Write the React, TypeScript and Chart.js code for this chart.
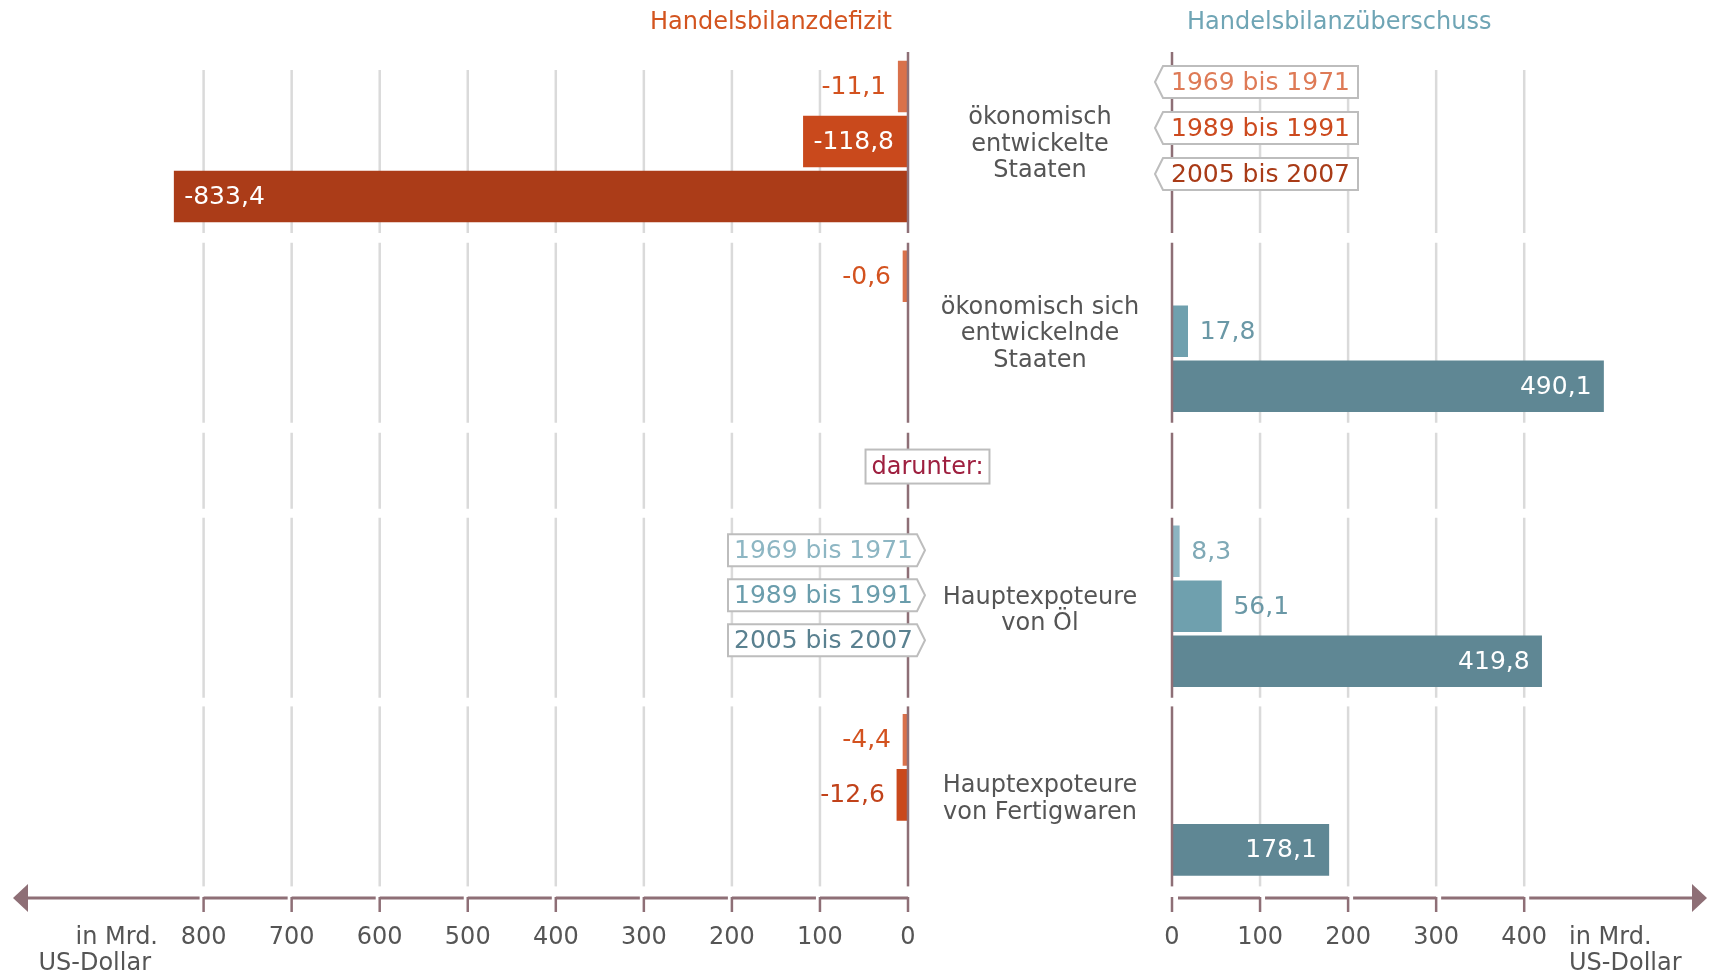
import { useEffect, useRef } from "react";
import { Chart, registerables } from "chart.js";

Chart.register(...registerables);

// ---------- data ----------
const groupLabels: string[][] = [
  ["ökonomisch", "entwickelte", "Staaten"],
  ["ökonomisch sich", "entwickelnde", "Staaten"],
  ["Hauptexpoteure", "von Öl"],
  ["Hauptexpoteure", "von Fertigwaren"],
];
const periods = ["1969 bis 1971", "1989 bis 1991", "2005 bis 2007"];

const deficit1969: (number | null)[] = [-11.1, -0.6, null, -4.4];
const deficit1989: (number | null)[] = [-118.8, null, null, -12.6];
const deficit2005: (number | null)[] = [-833.4, null, null, null];

const surplus1969: (number | null)[] = [null, null, 8.3, null];
const surplus1989: (number | null)[] = [null, 17.8, 56.1, null];
const surplus2005: (number | null)[] = [null, 490.1, 419.8, 178.1];

const leftTicks = [800, 700, 600, 500, 400, 300, 200, 100, 0];
const rightTicks = [0, 100, 200, 300, 400];

const titleDeficit = "Handelsbilanzdefizit";
const titleSurplus = "Handelsbilanzüberschuss";
const dividerLabel = "darunter:";
const unitLines = ["in Mrd.", "US-Dollar"];

// ---------- styles / layout ----------
const W = 1709;
const H = 979;
const FONT = '"DejaVu Sans", Verdana, sans-serif';
const PX_PER_UNIT = 0.8805;
const LEFT_ZERO = 908;
const RIGHT_ZERO = 1172;
const LEFT_MAX = 900;
const RIGHT_MAX = 600;
const SLOT_PX = 55;
const FIRST_SLOT_PX = 86.5;
const GROUP_OFFSETS = [0, 3.45, 8.45, 11.88];
const DIVIDER_ROW = 6.91;
const AXIS_Y = 898;

const deficitColors = ["#d9714b", "#c9491c", "#ab3c18"];
const deficitLabelColors = ["#d3521f", "#c1421a", "#a83a17"];
const deficitTagColors = ["#de7a56", "#cc4a1e", "#a93b17"];
const surplusColors = ["#8cb4c1", "#6fa0ae", "#5f8794"];
const surplusLabelColors = ["#7fa9b6", "#6a98a6", "#5f8794"];
const surplusTagColors = ["#8db6c3", "#6a9dac", "#5a8190"];
const GRID = "#dadada";
const AXIS = "#8e6f76";
const TEXT = "#555555";

const fmt = (v: number) => v.toFixed(1).replace(".", ",");

function toPoints(values: (number | null)[], p: number) {
  const out: { x: number; y: number }[] = [];
  values.forEach((v, g) => {
    if (v !== null) out.push({ x: v, y: GROUP_OFFSETS[g] + p });
  });
  return out;
}

function bandsFor(y: any) {
  const bands = GROUP_OFFSETS.map((o) => ({
    top: y.getPixelForValue(o - 0.5) - 6,
    bottom: y.getPixelForValue(o + 2.5) + 9,
  }));
  const divider = { top: bands[1].bottom + 10, bottom: bands[2].top - 9 };
  return [bands[0], bands[1], divider, bands[2], bands[3]];
}

function drawTag(
  ctx: CanvasRenderingContext2D,
  x1: number,
  x2: number,
  cy: number,
  pointer: "left" | "right",
  text: string,
  color: string
) {
  const h = 32;
  const tip = 8;
  const top = cy - h / 2;
  const bottom = cy + h / 2;
  ctx.beginPath();
  if (pointer === "left") {
    ctx.moveTo(x1, cy);
    ctx.lineTo(x1 + tip, top);
    ctx.lineTo(x2, top);
    ctx.lineTo(x2, bottom);
    ctx.lineTo(x1 + tip, bottom);
  } else {
    ctx.moveTo(x1, top);
    ctx.lineTo(x2 - tip, top);
    ctx.lineTo(x2, cy);
    ctx.lineTo(x2 - tip, bottom);
    ctx.lineTo(x1, bottom);
  }
  ctx.closePath();
  ctx.fillStyle = "#ffffff";
  ctx.fill();
  ctx.strokeStyle = "#bdbdbd";
  ctx.lineWidth = 2;
  ctx.stroke();
  ctx.fillStyle = color;
  ctx.textAlign = "left";
  ctx.textBaseline = "middle";
  ctx.font = `25px ${FONT}`;
  ctx.fillText(text, pointer === "left" ? x1 + 16 : x1 + 6, cy + 1);
}

function makePlugin(side: "left" | "right") {
  return {
    id: "decor-" + side,
    beforeDatasetsDraw(chart: any) {
      const ctx: CanvasRenderingContext2D = chart.ctx;
      const x = chart.scales.x;
      const y = chart.scales.y;
      const bands = bandsFor(y);
      const ticks = side === "left" ? leftTicks : rightTicks;
      ctx.save();
      ctx.strokeStyle = GRID;
      ctx.lineWidth = 2.5;
      ticks.forEach((t) => {
        if (t === 0) return;
        const px = x.getPixelForValue(side === "left" ? -t : t);
        bands.forEach((b, i) => {
          ctx.beginPath();
          ctx.moveTo(px, i === 0 ? b.top + 17 : b.top);
          ctx.lineTo(px, b.bottom);
          ctx.stroke();
        });
      });
      ctx.restore();
    },
    afterDatasetsDraw(chart: any) {
      const ctx: CanvasRenderingContext2D = chart.ctx;
      const x = chart.scales.x;
      const y = chart.scales.y;
      const bands = bandsFor(y);
      const ticks = side === "left" ? leftTicks : rightTicks;
      const zero = x.getPixelForValue(0);
      ctx.save();

      // zero lines per band
      ctx.strokeStyle = AXIS;
      ctx.lineWidth = 2.5;
      bands.forEach((b, i) => {
        ctx.beginPath();
        ctx.moveTo(zero, i === 0 ? b.top - 1 : b.top);
        ctx.lineTo(zero, b.bottom);
        ctx.stroke();
      });

      // bottom axis
      const tickPx = ticks.map((t) => x.getPixelForValue(side === "left" ? -t : t));
      ctx.lineWidth = 3;
      ctx.strokeStyle = AXIS;
      ctx.fillStyle = AXIS;
      if (side === "left") {
        const pts = [27, ...tickPx.slice(0, -1), zero];
        for (let i = 0; i < pts.length - 1; i++) {
          const a = pts[i];
          const bEnd = i < pts.length - 2 ? pts[i + 1] - 4 : pts[i + 1];
          ctx.beginPath();
          ctx.moveTo(a, AXIS_Y);
          ctx.lineTo(bEnd, AXIS_Y);
          ctx.stroke();
        }
        ctx.beginPath();
        ctx.moveTo(13, AXIS_Y);
        ctx.lineTo(28, AXIS_Y - 14);
        ctx.lineTo(28, AXIS_Y + 14);
        ctx.closePath();
        ctx.fill();
      } else {
        const pts = [...tickPx, W - 16];
        for (let i = 0; i < pts.length - 1; i++) {
          ctx.beginPath();
          ctx.moveTo(pts[i] + (i === 0 ? 6 : 5), AXIS_Y);
          ctx.lineTo(pts[i + 1], AXIS_Y);
          ctx.stroke();
        }
        ctx.beginPath();
        ctx.moveTo(W - 2, AXIS_Y);
        ctx.lineTo(W - 17, AXIS_Y - 14);
        ctx.lineTo(W - 17, AXIS_Y + 14);
        ctx.closePath();
        ctx.fill();
      }
      ctx.lineWidth = 2.5;
      tickPx.forEach((px) => {
        ctx.beginPath();
        ctx.moveTo(px, AXIS_Y - 1);
        ctx.lineTo(px, AXIS_Y + 14);
        ctx.stroke();
      });

      // tick labels
      ctx.font = `24px ${FONT}`;
      ctx.fillStyle = TEXT;
      ctx.textBaseline = "middle";
      ctx.textAlign = "center";
      ticks.forEach((t, i) => ctx.fillText(String(t), tickPx[i], 938));
      if (side === "left") {
        ctx.textAlign = "right";
        ctx.fillText(unitLines[0], 158, 938);
        ctx.fillText(unitLines[1], 151, 964);
      } else {
        ctx.textAlign = "left";
        ctx.fillText(unitLines[0], 1569, 938);
        ctx.fillText(unitLines[1], 1569, 964);
      }

      // value labels
      ctx.font = `25px ${FONT}`;
      chart.data.datasets.forEach((ds: any, di: number) => {
        const meta = chart.getDatasetMeta(di);
        meta.data.forEach((el: any, i: number) => {
          const v = ds.data[i].x;
          const len = Math.abs(el.x - el.base);
          const inside = len > 90;
          ctx.fillStyle = inside ? "#ffffff" : ds.labelColor;
          ctx.textBaseline = "middle";
          if (side === "left") {
            ctx.textAlign = inside ? "left" : "right";
            ctx.fillText(fmt(v), inside ? el.x + 10 : el.x - 12, el.y + 1);
          } else {
            ctx.textAlign = inside ? "right" : "left";
            ctx.fillText(fmt(v), inside ? el.x - 12 : el.x + 12, el.y + 1);
          }
        });
      });

      // legend tags
      const slotCenter = (g: number, p: number) => y.getPixelForValue(GROUP_OFFSETS[g] + p);
      if (side === "right") {
        periods.forEach((p, i) => {
          const cy = slotCenter(0, 1) - 13.5 + (i - 1) * 46;
          drawTag(ctx, RIGHT_ZERO - 17, RIGHT_ZERO + 186, cy, "left", p, deficitTagColors[i]);
        });
      } else {
        periods.forEach((p, i) => {
          const cy = slotCenter(2, 1) - 11 + (i - 1) * 45;
          drawTag(ctx, LEFT_ZERO - 180, LEFT_ZERO + 17, cy, "right", p, surplusTagColors[i]);
        });

        // titles
        ctx.font = `24px ${FONT}`;
        ctx.textBaseline = "middle";
        ctx.textAlign = "right";
        ctx.fillStyle = "#d3541f";
        ctx.fillText(titleDeficit, LEFT_ZERO - 16, 23);
        ctx.textAlign = "left";
        ctx.fillStyle = "#6fa5b5";
        ctx.fillText(titleSurplus, RIGHT_ZERO + 15, 23);

        // category labels
        const cx = (LEFT_ZERO + RIGHT_ZERO) / 2;
        ctx.fillStyle = TEXT;
        ctx.textAlign = "center";
        groupLabels.forEach((lines, g) => {
          const c = slotCenter(g, 1);
          const lh = 26.5;
          const start = c - ((lines.length - 1) * lh) / 2;
          lines.forEach((ln, k) => ctx.fillText(ln, cx, start + k * lh + (lines.length === 2 ? 4.5 : 3)));
        });

        // divider box
        const dy = y.getPixelForValue(DIVIDER_ROW);
        ctx.font = `24px ${FONT}`;
        const tw = ctx.measureText(dividerLabel).width;
        const bx = LEFT_ZERO + 19.5 - (tw + 12) / 2;
        ctx.fillStyle = "#ffffff";
        ctx.fillRect(bx, dy - 17, tw + 12, 34);
        ctx.strokeStyle = "#bdbdbd";
        ctx.lineWidth = 2;
        ctx.strokeRect(bx, dy - 17, tw + 12, 34);
        ctx.fillStyle = "#9e1f3f";
        ctx.textAlign = "left";
        ctx.fillText(dividerLabel, bx + 6, dy + 1);
      }
      ctx.restore();
    },
  };
}

function makeChart(canvas: HTMLCanvasElement, side: "left" | "right") {
  const series = side === "left" ? [deficit1969, deficit1989, deficit2005] : [surplus1969, surplus1989, surplus2005];
  const colors = side === "left" ? deficitColors : surplusColors;
  const labelColors = side === "left" ? deficitLabelColors : surplusLabelColors;
  const yMin = -FIRST_SLOT_PX / SLOT_PX;
  const yMax = (H - FIRST_SLOT_PX) / SLOT_PX;
  const padLeft = side === "left" ? LEFT_ZERO - LEFT_MAX * PX_PER_UNIT : RIGHT_ZERO;
  const padRight = side === "left" ? W - LEFT_ZERO : W - (RIGHT_ZERO + RIGHT_MAX * PX_PER_UNIT);
  return new Chart(canvas, {
    type: "bar",
    data: {
      datasets: series.map((vals, p) => ({
        label: periods[p],
        data: toPoints(vals, p),
        backgroundColor: colors[p],
        borderWidth: 0,
        grouped: false,
        barThickness: 51,
        minBarLength: 5,
        labelColor: labelColors[p],
      })) as any,
    },
    options: {
      indexAxis: "y",
      responsive: false,
      animation: false,
      devicePixelRatio: 1,
      layout: { padding: { left: padLeft, right: padRight, top: 0, bottom: 0 } },
      plugins: { legend: { display: false }, tooltip: { enabled: false }, title: { display: false } },
      scales: {
        x: {
          type: "linear",
          min: side === "left" ? -LEFT_MAX : 0,
          max: side === "left" ? 0 : RIGHT_MAX,
          offset: false,
          display: false,
        },
        y: { type: "linear", reverse: true, min: yMin, max: yMax, offset: false, display: false },
      },
    } as any,
    plugins: [makePlugin(side)],
  });
}

export default function App() {
  const leftRef = useRef<HTMLCanvasElement>(null);
  const rightRef = useRef<HTMLCanvasElement>(null);
  useEffect(() => {
    document.body.style.margin = "0";
    const a = makeChart(leftRef.current!, "left");
    const b = makeChart(rightRef.current!, "right");
    return () => {
      a.destroy();
      b.destroy();
    };
  }, []);
  const st: any = { position: "absolute", left: 0, top: 0, width: W, height: H };
  return (
    <div style={{ position: "absolute", left: 0, top: 0, width: W, height: H, background: "#fff", overflow: "hidden" }}>
      <canvas ref={leftRef} width={W} height={H} style={st} />
      <canvas ref={rightRef} width={W} height={H} style={st} />
    </div>
  );
}
